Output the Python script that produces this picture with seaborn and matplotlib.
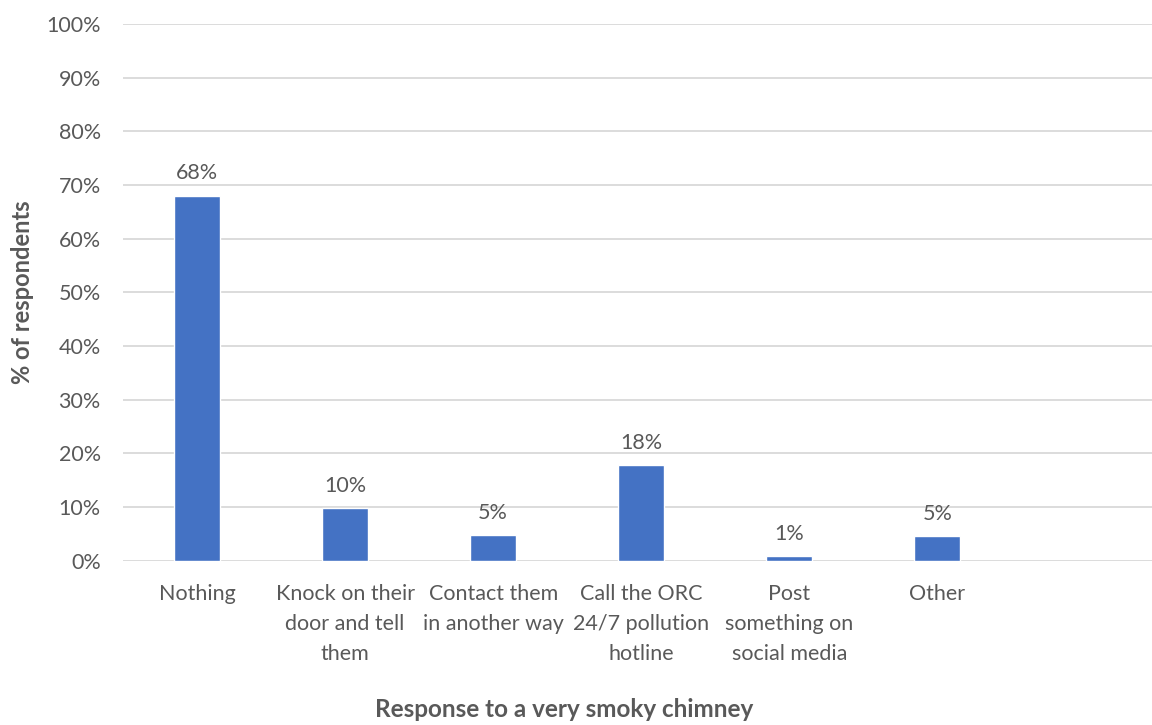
import matplotlib
matplotlib.use("Agg")
import matplotlib.pyplot as plt
from matplotlib.ticker import PercentFormatter
import seaborn as sns

# Dados.
categorias = [
    "Nothing",
    "Knock on their\ndoor and tell\nthem",
    "Contact them\nin another way",
    "Call the ORC\n24/7 pollution\nhotline",
    "Post\nsomething on\nsocial media",
    "Other",
]
percentuais = [68.0, 9.8, 4.7, 17.8, 0.8, 4.6]

COR_BARRA = "#4472C4"
COR_TEXTO = "#595959"
COR_GRADE = "#D9D9D9"

sns.set_theme(style="white")
plt.rcParams["font.family"] = ["Lato", "DejaVu Sans"]

fig = plt.figure(figsize=(11.52, 7.25), dpi=100)
ax = fig.add_axes([0.1068, 0.2266, 0.8932, 0.7403])

sns.barplot(x=categorias, y=percentuais, color=COR_BARRA, width=0.31,
            saturation=1, ax=ax, zorder=3)

ax.set_ylim(0, 100)
ax.set_xlim(-0.5, 6.45)
ax.set_yticks(range(0, 101, 10))
ax.yaxis.set_major_formatter(PercentFormatter(decimals=0))
ax.yaxis.grid(True, color=COR_GRADE, linewidth=1.3, zorder=0)
ax.set_axisbelow(True)
for lado in ax.spines.values():
    lado.set_visible(False)

ax.tick_params(axis="both", length=0, labelsize=15.5, colors=COR_TEXTO)
ax.tick_params(axis="y", pad=16)
ax.tick_params(axis="x", pad=17)
for rotulo in ax.get_xticklabels():
    rotulo.set_linespacing(1.6)

ax.bar_label(ax.containers[0], fmt="%.0f%%", padding=9, fontsize=15.5,
             color=COR_TEXTO)

ax.set_ylabel("% of respondents", fontsize=17, fontweight="bold",
              color=COR_TEXTO)
ax.yaxis.set_label_coords(-0.087, 0.5)
ax.set_xlabel("")
fig.text(0.49, 0.021, "Response to a very smoky chimney", ha="center",
         va="center", fontsize=17.5, fontweight="bold", color=COR_TEXTO)

fig.savefig("out.png", dpi=100)
